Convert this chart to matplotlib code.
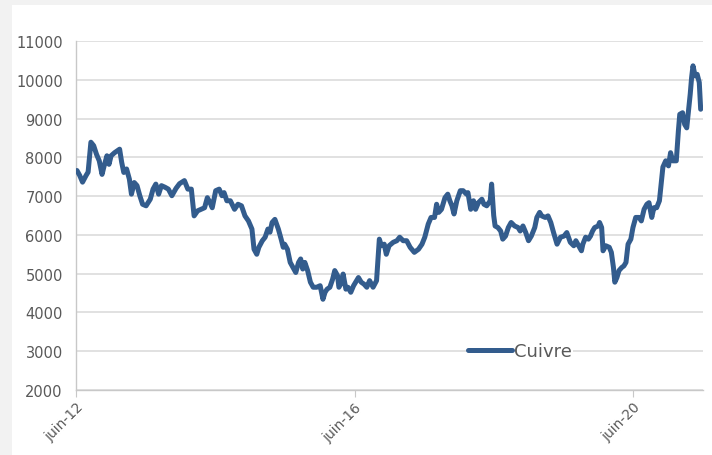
import datetime as dt

import matplotlib.pyplot as plt
import matplotlib.dates as mdates
from matplotlib.patches import Rectangle
from matplotlib.ticker import FuncFormatter

# copper price (USD/t), time
years = [
    2012.43, 2012.47, 2012.51, 2012.56, 2012.59, 2012.63, 2012.67, 2012.71, 2012.75, 2012.79,
    2012.82, 2012.86, 2012.89, 2012.92, 2012.97, 2013.04, 2013.07, 2013.10, 2013.14, 2013.18,
    2013.21, 2013.25, 2013.29, 2013.33, 2013.37, 2013.42, 2013.48, 2013.52, 2013.56, 2013.60,
    2013.64, 2013.69, 2013.74, 2013.79, 2013.85, 2013.90, 2013.97, 2014.02, 2014.07, 2014.11,
    2014.16, 2014.21, 2014.26, 2014.30, 2014.34, 2014.37, 2014.42, 2014.47, 2014.51, 2014.54,
    2014.58, 2014.63, 2014.69, 2014.74, 2014.79, 2014.84, 2014.89, 2014.94, 2014.97, 2015.01,
    2015.04, 2015.09, 2015.13, 2015.17, 2015.20, 2015.23, 2015.27, 2015.32, 2015.36, 2015.39,
    2015.41, 2015.45, 2015.49, 2015.53, 2015.57, 2015.61, 2015.64, 2015.67, 2015.70, 2015.74,
    2015.78, 2015.82, 2015.87, 2015.92, 2015.96, 2015.99, 2016.02, 2016.06, 2016.10, 2016.13,
    2016.17, 2016.19, 2016.23, 2016.25, 2016.29, 2016.32, 2016.36, 2016.40, 2016.47, 2016.51,
    2016.55, 2016.59, 2016.63, 2016.68, 2016.73, 2016.77, 2016.80, 2016.84, 2016.87, 2016.91,
    2016.97, 2017.02, 2017.06, 2017.11, 2017.16, 2017.21, 2017.27, 2017.33, 2017.38, 2017.42,
    2017.47, 2017.51, 2017.56, 2017.59, 2017.62, 2017.66, 2017.71, 2017.75, 2017.78, 2017.81,
    2017.84, 2017.88, 2017.93, 2017.97, 2018.02, 2018.04, 2018.08, 2018.12, 2018.15, 2018.19,
    2018.24, 2018.27, 2018.31, 2018.36, 2018.38, 2018.41, 2018.43, 2018.47, 2018.51, 2018.54,
    2018.58, 2018.62, 2018.66, 2018.71, 2018.76, 2018.79, 2018.83, 2018.87, 2018.91, 2018.95,
    2019.00, 2019.03, 2019.07, 2019.10, 2019.15, 2019.19, 2019.23, 2019.27, 2019.32, 2019.37,
    2019.42, 2019.46, 2019.51, 2019.56, 2019.59, 2019.63, 2019.67, 2019.69, 2019.73, 2019.77,
    2019.80, 2019.83, 2019.86, 2019.91, 2019.93, 2019.96, 2019.98, 2020.02, 2020.07, 2020.10,
    2020.13, 2020.15, 2020.18, 2020.21, 2020.25, 2020.28, 2020.31, 2020.34, 2020.38, 2020.41,
    2020.45, 2020.50, 2020.53, 2020.57, 2020.61, 2020.64, 2020.68, 2020.71, 2020.75, 2020.79,
    2020.82, 2020.84, 2020.88, 2020.92, 2020.95, 2020.98, 2021.03, 2021.06, 2021.08, 2021.12,
    2021.15, 2021.18, 2021.20, 2021.23, 2021.25, 2021.27, 2021.30, 2021.33, 2021.36, 2021.38,
]
cuivre = [
    7660, 7530, 7360, 7530, 7620, 8390, 8300, 8080, 7910, 7560,
    7780, 8040, 7820, 8040, 8120, 8210, 7870, 7610, 7700, 7440,
    7050, 7350, 7270, 7010, 6790, 6750, 6920, 7180, 7310, 7050,
    7270, 7230, 7180, 7010, 7200, 7320, 7400, 7180, 7180, 6490,
    6620, 6660, 6700, 6960, 6830, 6700, 7140, 7180, 7010, 7090,
    6880, 6880, 6660, 6790, 6750, 6490, 6360, 6150, 5630, 5500,
    5680, 5850, 5940, 6150, 6070, 6320, 6400, 6150, 5890, 5680,
    5760, 5630, 5290, 5160, 5030, 5290, 5380, 5120, 5290, 5080,
    4780, 4650, 4650, 4690, 4340, 4520, 4600, 4650, 4860, 5080,
    4950, 4650, 4780, 4990, 4600, 4650, 4520, 4690, 4900, 4780,
    4730, 4650, 4820, 4650, 4820, 5890, 5720, 5760, 5500, 5720,
    5810, 5850, 5940, 5850, 5850, 5680, 5550, 5630, 5760, 5940,
    6280, 6450, 6450, 6790, 6580, 6660, 6960, 7050, 6880, 6750,
    6540, 6880, 7140, 7140, 7050, 7090, 6660, 6880, 6660, 6830,
    6920, 6790, 6750, 6880, 7310, 6500, 6230, 6190, 6100, 5890,
    5970, 6190, 6320, 6230, 6190, 6100, 6230, 6060, 5850, 5970,
    6190, 6450, 6580, 6490, 6450, 6490, 6320, 6060, 5760, 5940,
    5970, 6060, 5810, 5720, 5850, 5720, 5590, 5760, 5940, 5890,
    5970, 6100, 6190, 6230, 6320, 6190, 5590, 5720, 5680, 5550,
    5160, 4780, 4900, 5080, 5160, 5200, 5290, 5760, 5890, 6190,
    6450, 6450, 6360, 6660, 6790, 6830, 6450, 6700, 6700, 6880,
    7400, 7750, 7910, 7780, 8120, 7910, 7910, 8680, 9110, 9150,
    8850, 8760, 9110, 9630, 10060, 10360, 10100, 10140, 9930, 9240,
]
y_ticks = list(range(2000, 11001, 1000))
series_name = "Cuivre"


def to_date(y):
    year = int(y)
    return dt.datetime(year, 1, 1) + dt.timedelta(days=(y - year) * 365.25)


dates = [to_date(y) for y in years]

fig = plt.figure(figsize=(7.12, 4.56), dpi=100, facecolor="#f2f2f2")
# white chart area inside the grey frame
fig.patches.append(Rectangle((12 / 712, 0), 1, 1 - 6 / 456, transform=fig.transFigure,
                             facecolor="white", edgecolor="none", zorder=-5))

ax = fig.add_axes([76 / 712, 1 - 391 / 456, 627 / 712, 349 / 456])
ax.set_facecolor("white")
ax.set_zorder(1)

ax.plot(dates, cuivre, color="#335c8d", linewidth=3.6, solid_capstyle="round",
        solid_joinstyle="round", label=series_name, zorder=3)

ax.set_ylim(2000, 11000)
ax.set_yticks(y_ticks)
ax.set_xlim(dt.datetime(2012, 6, 1), dt.datetime(2021, 6, 1))
ax.xaxis.set_major_locator(mdates.YearLocator(base=4, month=6, day=1))
ax.xaxis.set_major_formatter(FuncFormatter(
    lambda v, pos: "juin-" + mdates.num2date(v).strftime("%y")))

ax.grid(axis="y", color="#d9d9d9", linewidth=1.1, zorder=1)
for s in ["top", "right"]:
    ax.spines[s].set_visible(False)
for s in ["left", "bottom"]:
    ax.spines[s].set_color("#c8c8c8")
    ax.spines[s].set_linewidth(1.0)

ax.tick_params(axis="y", length=0, pad=9.5, labelsize=10.5, labelcolor="#595959")
ax.tick_params(axis="x", length=5, color="#c8c8c8", pad=2, labelsize=10,
               labelcolor="#595959")
for lab in ax.get_xticklabels():
    lab.set_rotation(45)
    lab.set_ha("right")
    lab.set_rotation_mode("anchor")

leg = ax.legend(loc="center", bbox_to_anchor=(0.708, 0.112), frameon=True,
                fontsize=13, handlelength=2.4, handletextpad=0.1, borderpad=0.1,
                borderaxespad=0)
leg.get_frame().set_facecolor("white")
leg.get_frame().set_edgecolor("none")
leg.get_frame().set_alpha(1)
for t in leg.get_texts():
    t.set_color("#595959")

fig.savefig("out.png", dpi=100, facecolor=fig.get_facecolor())
